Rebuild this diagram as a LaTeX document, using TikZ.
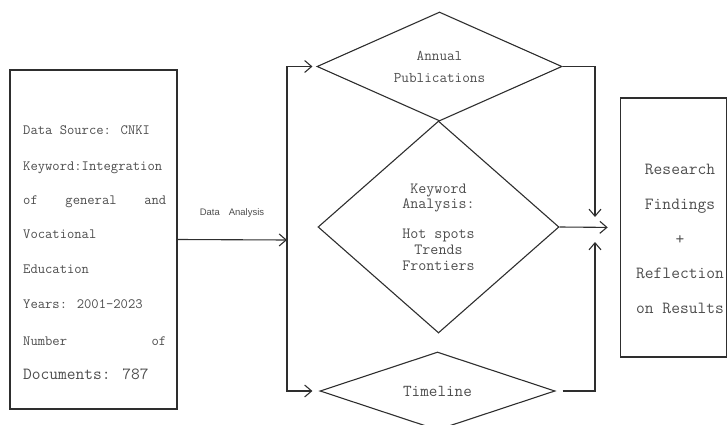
\documentclass[tikz,border=0pt]{standalone}
\usepackage{fontspec}
\setsansfont{Liberation Sans}
\usetikzlibrary{shapes.geometric,arrows.meta}
\definecolor{ink}{HTML}{2E2E2E}
\definecolor{txt}{HTML}{4D4D4D}
\newcommand{\mono}{\fontsize{14.2}{16}\selectfont\ttfamily}
\newcommand{\bigmono}{\fontsize{15.6}{15.8}\selectfont\ttfamily}
\tikzset{
 frame/.style={draw=ink,line width=1.1pt,rectangle,inner sep=0pt},
 rhomb/.style={draw=ink,line width=1.1pt,diamond,inner sep=0pt,text=txt,align=center},
 arr/.style={draw=ink,line width=1.1pt,-{Straight Barb[length=7pt,width=12pt]}},
 lbl/.style={inner sep=0pt,text=txt,text height=10pt,text depth=3pt},
}

\begin{document}
\begin{tikzpicture}[x=1pt,y=-1pt]
\path[use as bounding box] (0,0) rectangle (728,425);
% ---------- source box
\node[frame,minimum width=167pt,minimum height=339pt] (src) at (93.5,239.5) {};
\foreach \yy/\ln [count=\k] in {131/Data Source: CNKI, 166.5/Keyword:Integration,
  200.5/{\hbox to 143pt{of\hfill general\hfill and}}, 235/Vocational, 270/Education,
  305/Years: 2001-2023, 341.5/{\hbox to 143pt{Number\hfill of}}}
 \node[lbl,anchor=west,font=\mono] (ln\k) at (23,\yy) {\ln};
\node[lbl,anchor=west,font=\fontsize{17}{18}\selectfont\ttfamily] (ln8) at (23,375.5) {Documents: 787};
% ---------- analysis diamonds
\node[rhomb,aspect=2.2,minimum width=245pt,minimum height=109pt,font=\fontsize{14.8}{22}\selectfont\ttfamily] (ann) at (439.5,66.5) {Annual\\Publications};
\node[rhomb,aspect=1.1,minimum width=241pt,minimum height=212pt,font=\bigmono] (kw) at (438.5,227) {Keyword\\Analysis:\\[14pt]Hot spots\\Trends\\Frontiers};
\node[rhomb,aspect=2.2,minimum width=235pt,minimum height=78pt,font=\fontsize{16.7}{18}\selectfont\ttfamily] (tl) at (437.5,391) {Timeline};
% ---------- results box
\node[frame,minimum width=106pt,minimum height=259pt] (res) at (673.25,227.5) {};
\node[inner sep=0pt,text=txt,align=center,font=\fontsize{17}{34.7}\selectfont\ttfamily] (resl) at (680,239) {Research\\Findings\\+\\Reflection\\on Results};
% ---------- connectors
\coordinate (fork) at (287,240);
\coordinate (jn) at (595,217);
\coordinate (js) at (595,242);
\draw[arr] (src.east) -- (fork);
\node[inner sep=0pt,text=txt,font=\sffamily\fontsize{9.5}{11}\selectfont] (da) at (232,213) {Data\hspace{9pt}Analysis};
\draw[arr,shorten >=4pt] (fork) |- (ann.west);
\draw[arr,shorten >=7pt] (fork) |- (tl.west);
\draw[arr] (ann.east) -| (jn);
\draw[arr,shorten <=7pt] (tl.east) -| (js);
\draw[arr,shorten >=12pt] (kw.east) -- (res.west);
\end{tikzpicture}
\end{document}
